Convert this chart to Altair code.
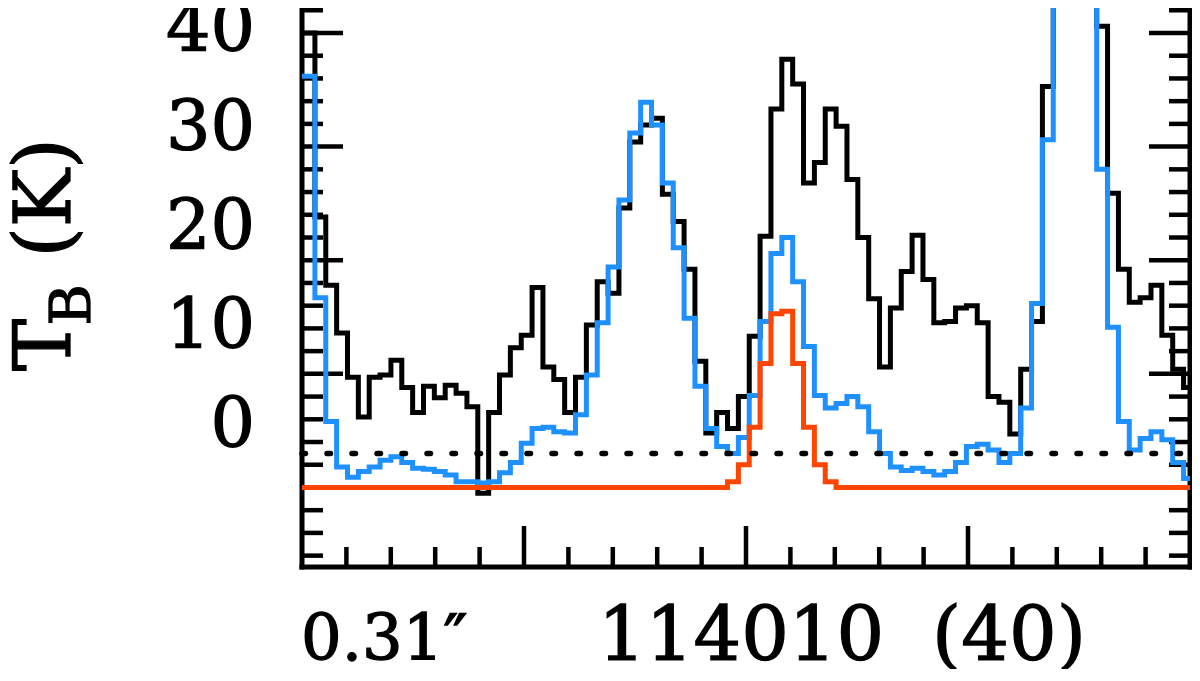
import altair as alt
import pandas as pd

# ---------------- data ----------------
X_MIN, X_MAX = 0.0, 40.0
Y_MIN, Y_MAX = -7.0, 42.2
W, H = 888, 559

first_edge = 0.582      # right edge of the first (partial) channel
chan_w = 0.4891         # channel width in axis units

black = [40.0, 23.8, 17.8, 13.6, 9.7, 6.2, 9.7, 9.9, 11.2, 8.8,
         6.6, 8.9, 7.9, 9.0, 8.3, 7.1, -0.5, 6.6, 9.9, 12.3,
         13.4, 17.6, 10.6, 9.5, 6.6, 9.7, 14.3, 18.1, 17.1, 24.6,
         30.4, 31.9, 32.5, 25.8, 23.4, 19.2, 11.1, 4.8, 6.6, 5.2,
         8.0, 13.3, 22.1, 33.3, 37.7, 35.5, 26.8, 28.6, 33.3, 31.8,
         27.1, 22.0, 16.6, 10.6, 15.8, 19.0, 22.2, 18.3, 14.5, 14.6,
         15.8, 16.0, 14.5, 8.0, 7.5, 4.7, 10.4, 14.6, 35.3, 60.0,
         75.0, 70.0, 55.0, 40.6, 25.9, 19.2, 16.3, 16.7, 17.8, 13.4,
         10.4, 8.8]

blue = [36.2, 16.7, 5.8, 1.8, 0.9, 1.4, 1.8, 2.4, 2.7, 2.2,
        1.7, 1.6, 1.4, 1.1, 0.5, 0.5, 0.4, 0.5, 1.3, 2.2,
        3.9, 5.2, 5.3, 4.9, 4.8, 6.4, 9.9, 14.5, 19.4, 25.3,
        31.2, 33.9, 31.9, 26.8, 21.1, 14.9, 8.9, 5.2, 3.6, 3.0,
        4.4, 8.1, 14.6, 20.6, 22.0, 18.1, 12.4, 8.1, 7.0, 7.4,
        8.0, 7.1, 4.9, 3.0, 1.8, 1.5, 1.7, 1.4, 1.1, 1.4,
        2.2, 3.6, 3.8, 3.3, 2.2, 3.0, 7.0, 16.2, 30.6, 70.0,
        90.0, 85.0, 60.0, 28.0, 14.1, 5.8, 3.3, 4.3, 4.9, 4.2,
        2.2, 0.8]

red_start = 39
red_peak = [0.5, 2.0, 5.3, 10.9, 15.3, 15.5, 10.9, 5.3, 2.0, 0.5]
red = [0.0] * red_start + red_peak + [0.0] * (len(black) - red_start - len(red_peak))

rms_level = 3.0

x_minor = [2, 4, 6, 8, 12, 14, 16, 18, 22, 24, 26, 28, 32, 34, 36, 38]
x_major = [10, 20, 30]
y_minor = [-6, -4, -2, 2, 4, 6, 8, 12, 14, 16, 18, 22, 24, 26, 28,
           32, 34, 36, 38, 42]
y_major = [0, 10, 20, 30, 40]
y_labels = [0, 10, 20, 30, 40]

FONT = "DejaVu Serif"
TXT_STROKE = 1.3

# ---------------- build ----------------
edges = [X_MIN] + [first_edge + chan_w * k for k in range(len(black) - 1)] + [X_MAX]


def step_df(vals):
    return pd.DataFrame({"x": edges, "y": list(vals) + [vals[-1]]})


xs = alt.Scale(domain=[X_MIN, X_MAX], nice=False, zero=False)
ys = alt.Scale(domain=[Y_MIN, Y_MAX], nice=False, zero=False)


def spectrum(vals, color):
    return alt.Chart(step_df(vals)).mark_line(
        interpolate="step-after", clip=True, color=color,
        strokeWidth=5, strokeJoin="miter"
    ).encode(
        x=alt.X("x:Q", scale=xs, axis=None),
        y=alt.Y("y:Q", scale=ys, axis=None),
    )


layers = []

# frame
layers.append(
    alt.Chart(pd.DataFrame({"v": [X_MIN, X_MAX]}))
    .mark_rule(color="black", strokeWidth=5)
    .encode(x=alt.X("v:Q", scale=xs, axis=None), y=alt.value(0), y2=alt.value(H + 2.5))
)
layers.append(
    alt.Chart(pd.DataFrame({"v": [Y_MIN]}))
    .mark_rule(color="black", strokeWidth=5)
    .encode(y=alt.Y("v:Q", scale=ys, axis=None), x=alt.value(-2.5), x2=alt.value(W + 2.5))
)


# ticks
def xticks(vals, length):
    return (
        alt.Chart(pd.DataFrame({"v": vals}))
        .mark_rule(color="black", strokeWidth=4.5)
        .encode(x=alt.X("v:Q", scale=xs, axis=None), y=alt.value(H), y2=alt.value(H - length))
    )


def yticks(vals, length, side):
    if side == "left":
        x0, x1 = 0, length
    else:
        x0, x1 = W, W - length
    return (
        alt.Chart(pd.DataFrame({"v": vals}))
        .mark_rule(color="black", strokeWidth=4.5)
        .encode(y=alt.Y("v:Q", scale=ys, axis=None), x=alt.value(x0), x2=alt.value(x1))
    )


layers += [xticks(x_minor, 20), xticks(x_major, 41),
           yticks(y_minor, 21, "left"), yticks(y_major, 41, "left"),
           yticks(y_minor, 21, "right"), yticks(y_major, 41, "right")]

# spectra
layers.append(spectrum(black, "#000000"))
layers.append(spectrum(blue, "#1E90FF"))
layers.append(spectrum(red, "#FF4500"))

# dotted rms line
layers.append(
    alt.Chart(pd.DataFrame({"x0": [X_MIN], "x1": [X_MAX], "y": [rms_level]}))
    .mark_rule(color="black", strokeWidth=5.5, strokeDash=[3.5, 21.5], strokeCap="round")
    .encode(x=alt.X("x0:Q", scale=xs, axis=None), x2="x1:Q",
            y=alt.Y("y:Q", scale=ys, axis=None))
)

# tick labels (placed as in the original, slightly compressed vs. the ticks)
layers.append(
    alt.Chart(pd.DataFrame({"v": y_labels}))
    .mark_text(font=FONT, fontSize=70, align="right", baseline="alphabetic",
               color="black", stroke="black", strokeWidth=TXT_STROKE)
    .encode(
        x=alt.value(-47),
        y=alt.Y("v:Q", scale=alt.Scale(domain=[-12.12, 44.34], nice=False, zero=False), axis=None),
        text="v:Q",
    )
)


def label(txt, x, y, size, angle=0, align="left"):
    kw = dict(font=FONT, fontSize=size, align=align, baseline="alphabetic",
              color="black", stroke="black", strokeWidth=TXT_STROKE)
    if angle:
        kw["angle"] = angle
    return (
        alt.Chart(pd.DataFrame({"t": [txt]}))
        .mark_text(**kw)
        .encode(x=alt.value(x), y=alt.value(y), text="t:N")
    )


layers.append(label("0.31\u2033", -1, 652, 64))
layers.append(label("114010 \u00a0(40)", 296, 652, 75))
layers.append(label("T", -232, 337, 78, angle=270, align="center"))
layers.append(label("B", -212, 297, 56, angle=270, align="center"))
layers.append(label("(K)", -232, 190, 78, angle=270, align="center"))

chart = (
    alt.layer(*layers)
    .resolve_scale(y="independent")
    .properties(
        width=W, height=H,
        padding={"left": 294, "top": 0, "right": 2, "bottom": 102},
        autosize=alt.AutoSizeParams(type="none"),
    )
    .configure_view(strokeWidth=0)
)

chart.save("out.html", embed_options={"renderer": "svg", "actions": False})
